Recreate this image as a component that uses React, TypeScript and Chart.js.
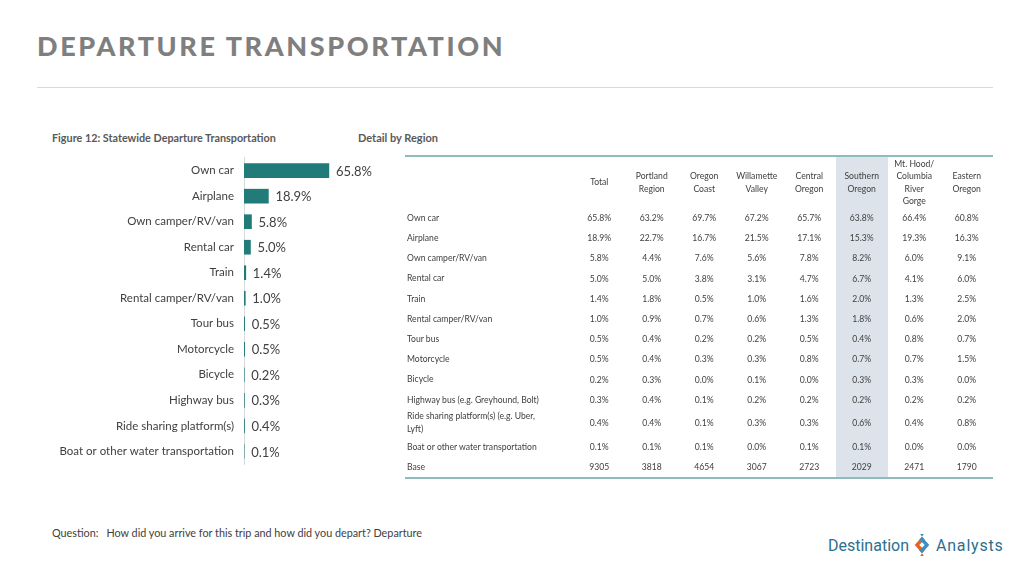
import React, { useEffect, useRef } from "react";
import { Chart, registerables } from "chart.js";

Chart.register(...registerables);

const categories = [
  "Own car",
  "Airplane",
  "Own camper/RV/van",
  "Rental car",
  "Train",
  "Rental camper/RV/van",
  "Tour bus",
  "Motorcycle",
  "Bicycle",
  "Highway bus",
  "Ride sharing platform(s)",
  "Boat or other water transportation",
];
const statewide = [65.8, 18.9, 5.8, 5.0, 1.4, 1.0, 0.5, 0.5, 0.2, 0.3, 0.4, 0.1];

const tableLabels = [
  "Own car",
  "Airplane",
  "Own camper/RV/van",
  "Rental car",
  "Train",
  "Rental camper/RV/van",
  "Tour bus",
  "Motorcycle",
  "Bicycle",
  "Highway bus (e.g. Greyhound, Bolt)",
  "Ride sharing platform(s) (e.g. Uber, Lyft)",
  "Boat or other water transportation",
];
const regionHeaders = [
  "Total",
  "Portland\nRegion",
  "Oregon\nCoast",
  "Willamette\nValley",
  "Central\nOregon",
  "Southern\nOregon",
  "Mt. Hood/\nColumbia\nRiver\nGorge",
  "Eastern\nOregon",
];
const totalCol = [65.8, 18.9, 5.8, 5.0, 1.4, 1.0, 0.5, 0.5, 0.2, 0.3, 0.4, 0.1];
const portlandCol = [63.2, 22.7, 4.4, 5.0, 1.8, 0.9, 0.4, 0.4, 0.3, 0.4, 0.4, 0.1];
const coastCol = [69.7, 16.7, 7.6, 3.8, 0.5, 0.7, 0.2, 0.3, 0.0, 0.1, 0.1, 0.1];
const willametteCol = [67.2, 21.5, 5.6, 3.1, 1.0, 0.6, 0.2, 0.3, 0.1, 0.2, 0.3, 0.0];
const centralCol = [65.7, 17.1, 7.8, 4.7, 1.6, 1.3, 0.5, 0.8, 0.0, 0.2, 0.3, 0.1];
const southernCol = [63.8, 15.3, 8.2, 6.7, 2.0, 1.8, 0.4, 0.7, 0.3, 0.2, 0.6, 0.1];
const mtHoodCol = [66.4, 19.3, 6.0, 4.1, 1.3, 0.6, 0.8, 0.7, 0.3, 0.2, 0.4, 0.0];
const easternCol = [60.8, 16.3, 9.1, 6.0, 2.5, 2.0, 0.7, 1.5, 0.0, 0.2, 0.8, 0.0];
const baseRow = [9305, 3818, 4654, 3067, 2723, 2029, 2471, 1790];

const FONT = "Lato, 'Open Sans', sans-serif";
const TEXT = "#404040";
const BAR = "#217b79";

const valueLabels = {
  id: "valueLabels",
  afterDatasetsDraw(chart: any) {
    const ctx = chart.ctx;
    const meta = chart.getDatasetMeta(0);
    ctx.save();
    ctx.font = `13px ${FONT}`;
    ctx.fillStyle = TEXT;
    ctx.textBaseline = "middle";
    ctx.textAlign = "left";
    meta.data.forEach((bar: any, i: number) => {
      const v = chart.data.datasets[0].data[i];
      ctx.fillText(v.toFixed(1) + "%", bar.x + 7, bar.y + 1);
    });
    ctx.restore();
  },
};

function BarChart() {
  const ref = useRef<HTMLCanvasElement>(null);
  useEffect(() => {
    if (!ref.current) return;
    const chart = new Chart(ref.current, {
      type: "bar",
      data: {
        labels: categories,
        datasets: [
          {
            data: statewide,
            backgroundColor: BAR,
            barThickness: 14,
          },
        ],
      },
      options: {
        indexAxis: "y",
        animation: false,
        responsive: false,
        maintainAspectRatio: false,
        layout: { padding: { right: 40, top: 0, bottom: 0, left: 0 } },
        plugins: { legend: { display: false }, tooltip: { enabled: false } },
        scales: {
          x: { display: false, min: 0, max: 100 },
          y: {
            afterFit: (s: any) => {
              s.width = 204;
            },
            grid: { display: true, drawOnChartArea: false, drawTicks: false, color: "transparent" },
            border: { display: true, color: "#d9d9d9", width: 1 },
            ticks: { padding: 10, color: TEXT, font: { family: FONT, size: 11.5 } },
          },
        },
      },
      plugins: [valueLabels],
    });
    return () => chart.destroy();
  }, []);
  return (
    <canvas
      ref={ref}
      width={373}
      height={340}
      style={{ position: "absolute", left: 40, top: 141, width: 373, height: 340 }}
    />
  );
}

function fmt(v: number) {
  return v.toFixed(1) + "%";
}

function DataTable() {
  const cols = [totalCol, portlandCol, coastCol, willametteCol, centralCol, southernCol, mtHoodCol, easternCol];
  const cell: React.CSSProperties = { padding: 0, textAlign: "center", verticalAlign: "middle" };
  const shade = (j: number): React.CSSProperties => (j === 5 ? { background: "#dce3eb" } : {});
  return (
    <table
      style={{
        position: "absolute",
        left: 405,
        top: 155,
        width: 588,
        borderCollapse: "collapse",
        tableLayout: "fixed",
        fontFamily: FONT,
        fontSize: 8.6,
        color: TEXT,
        borderTop: "2px solid #8cbcbc",
        borderBottom: "2px solid #8cbcbc",
      }}
    >
      <colgroup>
        <col style={{ width: 168 }} />
        {regionHeaders.map((_, j) => (
          <col key={j} style={{ width: 52.5 }} />
        ))}
      </colgroup>
      <thead>
        <tr style={{ height: 52 }}>
          <th style={{ ...cell }}></th>
          {regionHeaders.map((h, j) => (
            <th
              key={j}
              style={{ ...cell, ...shade(j), fontWeight: "normal", lineHeight: "12.5px", whiteSpace: "pre-line" }}
            >
              {h}
            </th>
          ))}
        </tr>
      </thead>
      <tbody>
        {tableLabels.map((lab, i) => (
          <tr key={i} style={{ height: i === 10 ? 26 : i === 11 ? 22 : 20.2 }}>
            <td style={{ ...cell, textAlign: "left", paddingLeft: 2, paddingRight: 30, lineHeight: "12.5px" }}>{lab}</td>
            {cols.map((c, j) => (
              <td key={j} style={{ ...cell, ...shade(j) }}>
                {fmt(c[i])}
              </td>
            ))}
          </tr>
        ))}
        <tr style={{ height: 20 }}>
          <td style={{ ...cell, textAlign: "left", paddingLeft: 2 }}>Base</td>
          {baseRow.map((b, j) => (
            <td key={j} style={{ ...cell, ...shade(j) }}>
              {b}
            </td>
          ))}
        </tr>
      </tbody>
    </table>
  );
}

function Logo() {
  return (
    <div
      style={{
        position: "absolute",
        left: 828,
        top: 533,
        height: 24,
        display: "flex",
        alignItems: "center",
        fontFamily: "Roboto, sans-serif",
        fontSize: 16,
        color: "#2d6f8c",
      }}
    >
      <span>Destination</span>
      <svg width="20" height="24" viewBox="0 0 22 24" style={{ margin: "0 4px 0 3px" }}>
        <polygon points="11,3 3,12 11,21 14,18 8,12 14,6" fill="#e2642b" />
        <polygon points="11,3 19,12 11,21 8,18 14,12 8,6" fill="#3c8fc0" />
        <polygon points="9,0 13,0 11,3" fill="#3c8fc0" />
        <polygon points="9,24 13,24 11,21" fill="#e2642b" />
      </svg>
      <span style={{ letterSpacing: 0.8 }}>Analysts</span>
    </div>
  );
}

export default function App() {
  return (
    <div
      style={{
        position: "fixed",
        left: 0,
        top: 0,
        width: 1024,
        height: 576,
        background: "#ffffff",
        overflow: "hidden",
        fontFamily: FONT,
      }}
    >
      <div
        style={{
          position: "absolute",
          left: 37,
          top: 28,
          fontSize: 27,
          fontWeight: 900,
          letterSpacing: 2.6,
          color: "#7f7f7f",
          lineHeight: "36px",
          whiteSpace: "nowrap",
        }}
      >
        DEPARTURE TRANSPORTATION
      </div>
      <div style={{ position: "absolute", left: 37, top: 87, width: 956, height: 1, background: "#d9d9d9" }} />
      <div
        style={{
          position: "absolute",
          left: 52,
          top: 131,
          fontSize: 10.8,
          fontWeight: 700,
          color: "#595959",
          lineHeight: "14px",
          whiteSpace: "nowrap",
        }}
      >
        Figure 12: Statewide Departure Transportation
      </div>
      <div
        style={{
          position: "absolute",
          left: 358,
          top: 131,
          fontSize: 11,
          fontWeight: 700,
          color: "#595959",
          lineHeight: "14px",
          whiteSpace: "nowrap",
        }}
      >
        Detail by Region
      </div>
      <BarChart />
      <DataTable />
      <div
        style={{
          position: "absolute",
          left: 52,
          top: 527,
          fontSize: 10.8,
          color: TEXT,
          lineHeight: "12px",
          whiteSpace: "nowrap",
        }}
      >
        <span style={{ marginRight: 8 }}>Question:</span>How did you arrive for this trip and how did you depart? Departure
      </div>
      <Logo />
    </div>
  );
}
